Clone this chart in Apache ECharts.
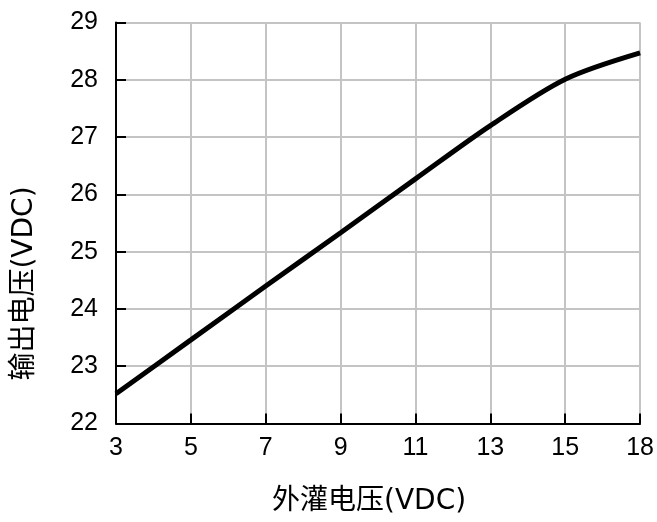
<!DOCTYPE html>
<html>
<head>
<meta charset="utf-8">
<script src="https://cdn.jsdelivr.net/npm/echarts@6/dist/echarts.min.js"></script>
<style>
  html, body { margin: 0; padding: 0; background: #fff; }
  #chart { width: 657px; height: 522px; }
</style>
</head>
<body>
<div id="chart"></div>
<script>
// input voltage categories (x ticks) and output voltage readings
var inputVoltage = ['3', '5', '7', '9', '11', '13', '15', '18'];
var outputVoltage = [22.52, 23.46, 24.4, 25.33, 26.27, 27.2, 28.01, 28.47];

var yMin = 22, yMax = 29, yStep = 1;
var xName = '外灌电压(VDC)';
var yName = '输出电压(VDC)';

var labelFont = 'Liberation Sans, Arial, sans-serif';
var nameFont = 'DejaVu Sans, Noto Sans CJK SC, sans-serif';

var myChart = echarts.init(document.getElementById('chart'));
var option = {
  animation: false,
  grid: {
    left: 116,
    right: 16,
    top: 22.5,
    bottom: 98.5,
    containLabel: false
  },
  xAxis: {
    type: 'category',
    data: inputVoltage,
    boundaryGap: false,
    name: xName,
    nameLocation: 'middle',
    nameGap: 64,
    nameTextStyle: {
      fontFamily: nameFont,
      fontSize: 28,
      color: '#000',
      padding: [0, 18, 0, 0]
    },
    axisLine: { lineStyle: { color: '#000', width: 2 } },
    axisTick: { inside: true, length: 10, interval: 0, lineStyle: { color: '#000', width: 2 } },
    axisLabel: {
      interval: 0,
      margin: 12,
      fontFamily: labelFont,
      fontSize: 25,
      color: '#000'
    },
    splitLine: { show: true, interval: 0, lineStyle: { color: '#c4c4c4', width: 2 } }
  },
  yAxis: {
    type: 'value',
    min: yMin,
    max: yMax,
    interval: yStep,
    name: yName,
    nameLocation: 'middle',
    nameGap: 77,
    nameTextStyle: {
      fontFamily: nameFont,
      fontSize: 28,
      color: '#000',
      padding: [0, 121, 0, 0]
    },
    axisLine: { show: true, lineStyle: { color: '#000', width: 2 } },
    axisTick: { show: true, inside: true, length: 10, lineStyle: { color: '#000', width: 2 } },
    axisLabel: {
      margin: 18,
      fontFamily: labelFont,
      fontSize: 25,
      color: '#000'
    },
    splitLine: { show: true, lineStyle: { color: '#c4c4c4', width: 2 } }
  },
  series: [
    {
      type: 'line',
      data: outputVoltage,
      smooth: 0.3,
      symbol: 'none',
      lineStyle: { color: '#000', width: 5 }
    }
  ]
};
myChart.setOption(option, true);
</script>
</body>
</html>
